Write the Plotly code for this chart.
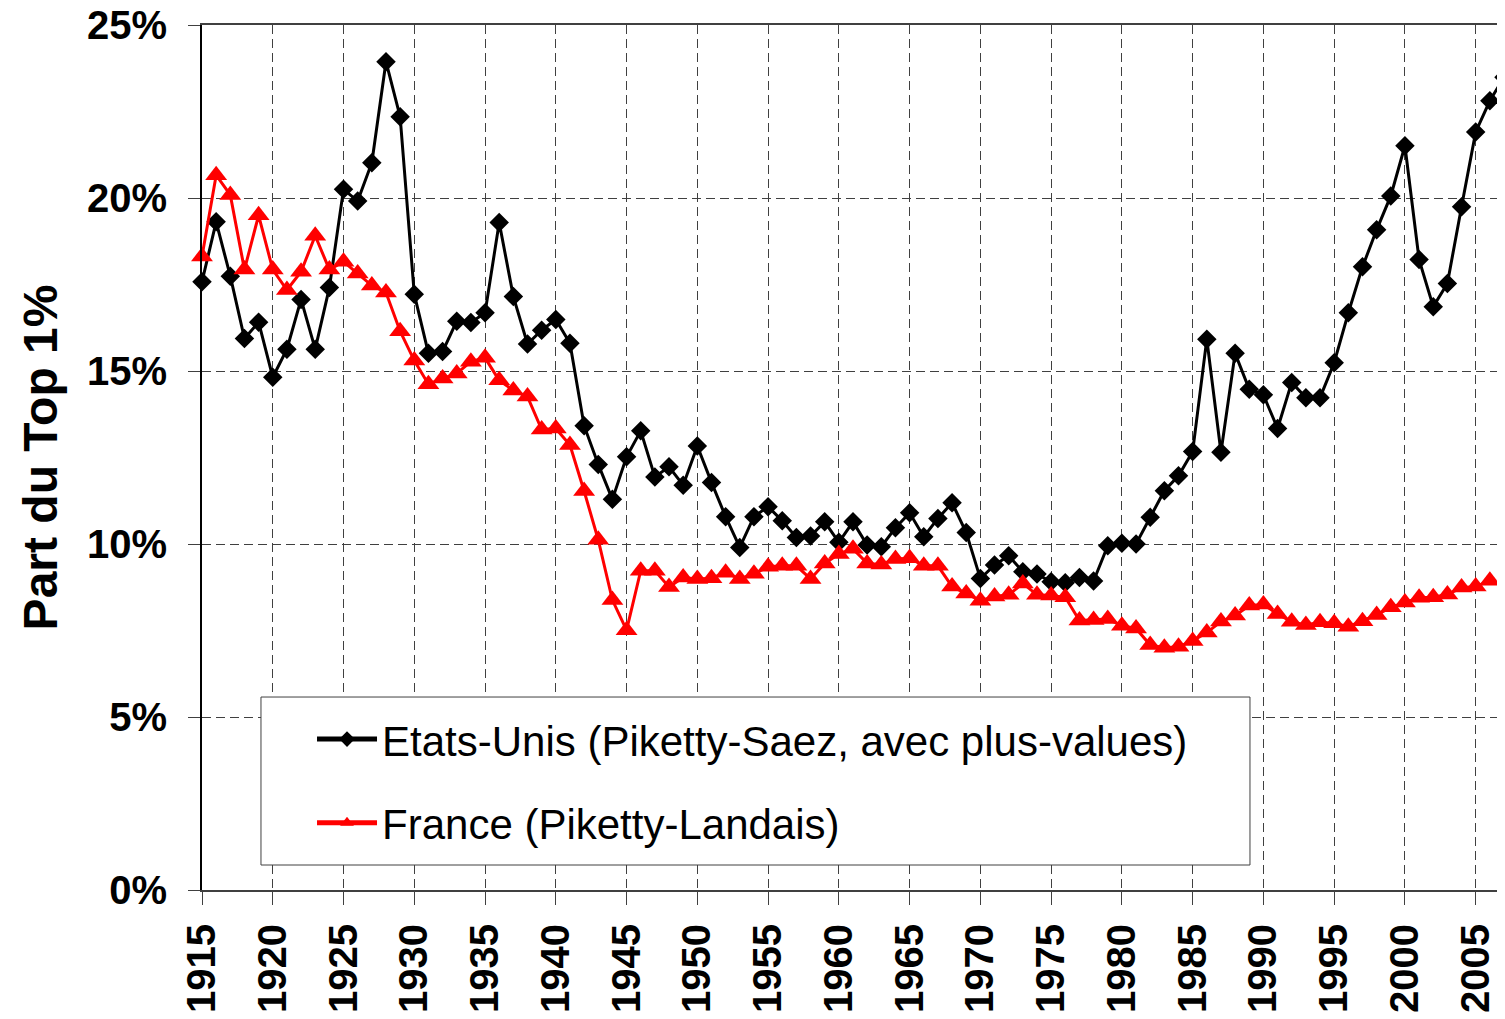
import plotly.graph_objects as go

years_us = list(range(1915, 2008))
us = [17.58, 19.31, 17.74, 15.94, 16.41, 14.82, 15.63, 17.07, 15.63, 17.41,
      20.25, 19.91, 21.02, 23.94, 22.35, 17.22, 15.51, 15.56, 16.44, 16.40,
      16.68, 19.29, 17.15, 15.78, 16.18, 16.49, 15.80, 13.42, 12.30, 11.29,
      12.52, 13.27, 11.94, 12.23, 11.70, 12.83, 11.78, 10.79, 9.90, 10.79,
      11.08, 10.67, 10.19, 10.23, 10.64, 10.05, 10.64, 9.97, 9.92, 10.47,
      10.90, 10.21, 10.74, 11.19, 10.33, 9.00, 9.39, 9.66, 9.20, 9.13,
      8.91, 8.88, 9.03, 8.93, 9.95, 10.02, 10.00, 10.77, 11.54, 11.97,
      12.67, 15.92, 12.65, 15.51, 14.47, 14.31, 13.34, 14.67, 14.23, 14.23,
      15.24, 16.68, 18.01, 19.08, 20.06, 21.51, 18.22, 16.86, 17.53, 19.75,
      21.91, 22.81, 23.49]

years_fr = list(range(1915, 2007))
france = [18.31, 20.66, 20.09, 17.93, 19.50, 17.93, 17.34, 17.87, 18.91, 17.93,
          18.16, 17.82, 17.47, 17.27, 16.15, 15.30, 14.62, 14.78, 14.93, 15.27,
          15.38, 14.73, 14.44, 14.26, 13.31, 13.34, 12.86, 11.53, 10.12, 8.38,
          7.51, 9.23, 9.23, 8.76, 9.03, 8.99, 9.01, 9.17, 8.99, 9.14,
          9.34, 9.37, 9.37, 8.99, 9.44, 9.71, 9.86, 9.44, 9.41, 9.57,
          9.59, 9.37, 9.37, 8.77, 8.57, 8.36, 8.48, 8.53, 8.86, 8.53,
          8.51, 8.46, 7.79, 7.80, 7.83, 7.64, 7.56, 7.08, 7.00, 7.03,
          7.20, 7.44, 7.76, 7.93, 8.22, 8.25, 7.98, 7.75, 7.66, 7.74,
          7.71, 7.61, 7.77, 7.95, 8.17, 8.31, 8.45, 8.46, 8.54, 8.74,
          8.77, 8.94]

x_ticks = list(range(1915, 2006, 5))
y_ticks = [0, 5, 10, 15, 20, 25]
y_labels = [f"{v}%" for v in y_ticks]

fig = go.Figure()
fig.add_trace(go.Scatter(x=years_us, y=us, mode="lines+markers",
                         name="Etats-Unis (Piketty-Saez, avec plus-values)",
                         legendgroup="us",
                         line=dict(color="black", width=3),
                         marker=dict(symbol="diamond", size=15, color="black"),
                         cliponaxis=False))
fig.add_trace(go.Scatter(x=years_fr, y=france, mode="lines+markers",
                         name="France (Piketty-Landais)",
                         legendgroup="fr",
                         line=dict(color="#ff0000", width=3),
                         marker=dict(symbol="triangle-up", size=19, color="#ff0000"),
                         cliponaxis=False))

# cadre blanc de la légende
fig.add_shape(type="rect", xref="paper", yref="paper",
              x0=0.0453, x1=0.8049, y0=0.0289, y1=0.2231,
              line=dict(color="#404040", width=1), fillcolor="white", layer="above")

# la page html garde une marge de 8 px autour du graphique
fig.update_layout(
    width=1497, height=1011,
    margin=dict(l=194, r=1, t=17, b=129),
    plot_bgcolor="white", paper_bgcolor="white",
    font=dict(family="Liberation Sans", color="black"),
    legend=dict(x=0.0845, y=0.2135, xanchor="left", yanchor="top",
                bgcolor="rgba(0,0,0,0)", borderwidth=0,
                font=dict(size=42, family="Liberation Sans"),
                tracegroupgap=26, itemsizing="constant", itemwidth=60),
    showlegend=True,
)
fig.update_xaxes(range=[1915, 2007], tickvals=x_ticks, tickangle=-90,
                 tickfont=dict(size=40, weight="bold"),
                 ticks="outside", ticklen=13, tickcolor="#404040",
                 ticklabelstandoff=3, automargin=False, ticklabeloverflow="allow",
                 showgrid=True, gridcolor="#404040", griddash="9px,5px", gridwidth=1,
                 showline=True, linecolor="#404040", linewidth=2, mirror=True,
                 zeroline=False)
fig.update_yaxes(range=[0, 25], tickvals=y_ticks, ticktext=y_labels,
                 tickfont=dict(size=40, weight="bold"),
                 ticks="outside", ticklen=12, tickcolor="#404040",
                 ticklabelstandoff=13, automargin=False, ticklabeloverflow="allow",
                 showgrid=True, gridcolor="#404040", griddash="9px,5px", gridwidth=1,
                 showline=True, linecolor="black", linewidth=2, mirror=True,
                 zeroline=False,
                 title=dict(text="Part du Top 1%", font=dict(size=48, weight="bold"),
                            standoff=14))

fig.write_html("out.html")
